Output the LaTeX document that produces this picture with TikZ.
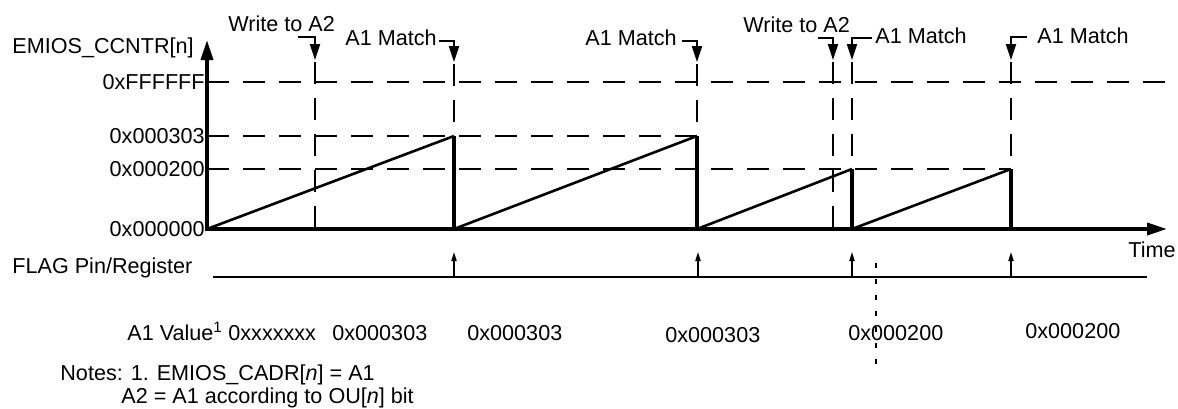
\documentclass[tikz,border=0pt]{standalone}
\usepackage{fontspec}
\setmainfont{Liberation Sans}
\usepackage{tikz}
\usetikzlibrary{arrows.meta,calc,positioning}
\tikzset{
  axis/.style={black,line width=1.7pt,-{Triangle[length=10pt,width=6pt]}},
  ramp/.style={black,line width=1.3pt},
  drop/.style={black,line width=1.6pt},
  guide/.style={black,line width=1.1pt,dash pattern=on 11pt off 7pt},
  probe/.style={black,line width=1.1pt,dash pattern=on 2.5pt off 5.5pt},
  tag/.style={black,line width=1pt,-{Triangle[length=8pt,width=5pt]}},
  flagup/.style={black,line width=0.7pt,-{Triangle[length=4.5pt,width=2.6pt]}},
  flagline/.style={black,line width=1.1pt},
  lab/.style={font=\fontsize{10.8}{12.5}\selectfont,inner sep=0pt},
}

\begin{document}
\begin{tikzpicture}[x=0.5pt,y=-0.5pt]
  \path[use as bounding box] (0,0) rectangle (1178,408);

  % event instants and counter levels
  \coordinate (O) at (207,229);
  \coordinate (W1) at (315,229);
  \coordinate (M1) at (454,229);
  \coordinate (M2) at (697,229);
  \coordinate (W2) at (833,229);
  \coordinate (M3) at (852,229);
  \coordinate (M4) at (1011,229);

  % level guides
  \draw[guide] (207,82) -- (1175,82);
  \draw[guide] (207,136) -- (697,136);
  \draw[guide] (207,169) -- (1011,169);

  % event guides
  \draw[guide] (315,62) -- (W1);
  \draw[guide] (833,62) -- (W2);
  \foreach \ev/\top in {M1/64,M2/64,M3/62,M4/62}
    \draw[guide] (\ev |- 0,\top) -- ($(\ev)+(0,9)$);

  % axes
  \draw[axis] (207,231) -- (207,40);
  \draw[axis] (205,229) -- (1167,229);

  % counter sawtooth
  \draw[ramp] (O) -- (454,136);
  \draw[drop] (454,136) -- (M1);
  \draw[ramp] (M1) -- (697,136);
  \draw[drop] (697,136) -- (M2);
  \draw[ramp] (M2) -- (852,169);
  \draw[drop] (852,169) -- (M3);
  \draw[ramp] (M3) -- (1011,169);
  \draw[drop] (1011,169) -- (M4);

  % axis labels
  \node[lab,anchor=base west] (cntr) at (12,53) {EMIOS\_CCNTR[n]};
  \node[lab,anchor=east] (vmax) at (205,82) {0xFFFFFF};
  \node[lab,anchor=east] (vhi) at (205,136) {0x000303};
  \node[lab,anchor=east] (vlo) at (205,169) {0x000200};
  \node[lab,anchor=east] (vzero) at (205,229) {0x000000};
  \node[lab,anchor=base west] (time) at (1128,257) {Time};

  % event tags
  \node[lab,anchor=base west] (wr1) at (228,31) {Write to A2};
  \node[lab,anchor=base west] (mt1) at (345,45) {A1 Match};
  \node[lab,anchor=base west] (mt2) at (585,45) {A1 Match};
  \node[lab,anchor=base west] (wr2) at (743,32) {Write to A2};
  \node[lab,anchor=base west] (mt3) at (875,43) {A1 Match};
  \node[lab,anchor=base west] (mt4) at (1037,43) {A1 Match};
  \draw[tag] (298,37) -| (315,60);
  \draw[tag] (mt1.east |- 0,41) ++(2,0) -| (454,62);
  \draw[tag] (mt2.east |- 0,41) ++(5,0) -| (697,62);
  \draw[tag] (818,38) -| (833,60);
  \draw[tag] (mt3.west |- 0,38) ++(-3,0) -| (852,60);
  \draw[tag] (mt4.west |- 0,37) ++(-10,0) -| (1011,60);

  % flag
  \node[lab,anchor=base west] (flag) at (12,273) {FLAG Pin/Register};
  \draw[flagline] (213,277) -- (1147,277);
  \foreach \ev in {M1,M3,M4}
    \draw[flagup] (\ev |- 0,277) -- (\ev |- 0,252);
  \draw[flagup] (698,277) -- (698,252);
  \draw[probe] (876,263) -- (876,368);

  % A1 register contents
  \node[lab,anchor=base west] (aval) at (127,340) {A1 Value\textsuperscript{1}};
  \node[lab,anchor=base west] (a0) at (228,340) {0xxxxxxx};
  \node[lab,anchor=base west] (a1) at (332,340) {0x000303};
  \node[lab,anchor=base west] (a2) at (467,340) {0x000303};
  \node[lab,anchor=base west] (a3) at (665,342) {0x000303};
  \node[lab,anchor=base west] (a4) at (848,340) {0x000200};
  \node[lab,anchor=base west] (a5) at (1025,338) {0x000200};

  % notes
  \node[lab,anchor=base west] (note1) at (60,380) {Notes: 1. EMIOS\_CADR[\textit{n}] = A1};
  \node[lab,anchor=base west] (note2) at (121,403) {A2 = A1 according to OU[\textit{n}] bit};
\end{tikzpicture}
\end{document}
